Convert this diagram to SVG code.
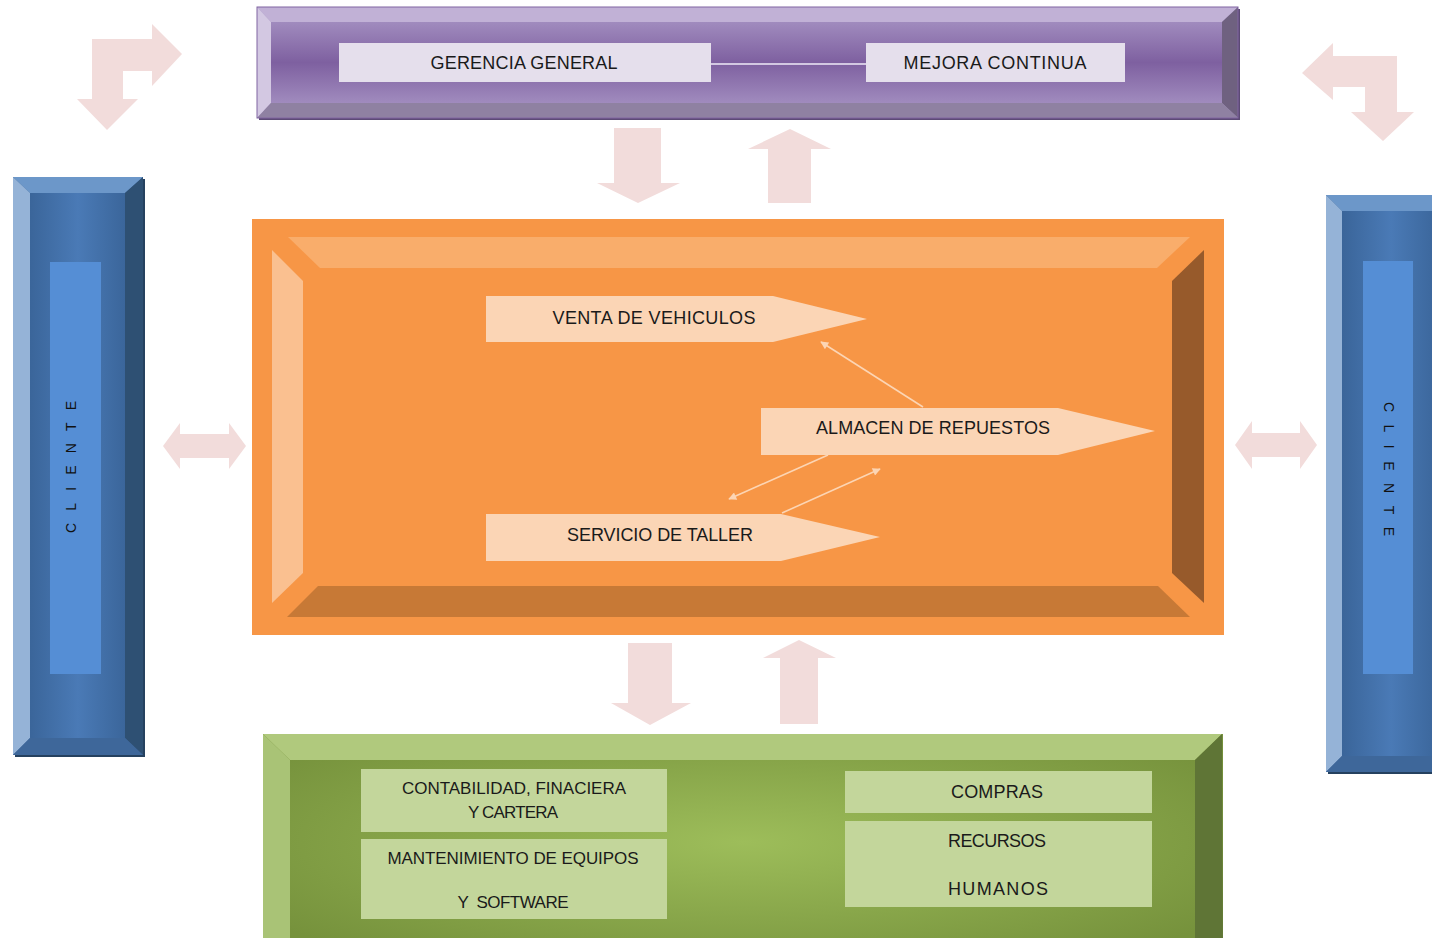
<svg xmlns="http://www.w3.org/2000/svg" width="1432" height="938" viewBox="0 0 1432 938">
<style>
.t{font-family:"Liberation Sans",Arial,sans-serif;fill:#1a1a1a;text-anchor:middle;dominant-baseline:central}
.bigArrow{fill:#f2dcdb}
.pent{fill:#fbd5b5}
.sub{fill:#c3d69b}
.pbox{fill:#e5dfec}
.conn{stroke:#fcd5b4;stroke-width:1.6;fill:none}
.cl{font-family:"Liberation Sans",Arial,sans-serif;fill:#111;text-anchor:middle;dominant-baseline:central;font-size:14px}
</style>
<defs>
<linearGradient id="gPurple" x1="0" y1="0" x2="0" y2="1">
<stop offset="0" stop-color="#ad9bc9"/>
<stop offset="0.5" stop-color="#7e60a0"/>
<stop offset="1" stop-color="#ad9bc9"/>
</linearGradient>
<linearGradient id="gBlue" x1="0" y1="0" x2="1" y2="0">
<stop offset="0" stop-color="#355e90"/>
<stop offset="0.5" stop-color="#4a7ab6"/>
<stop offset="1" stop-color="#355e90"/>
</linearGradient>
<radialGradient id="gGreen" cx="0.5" cy="0.45" r="0.6">
<stop offset="0" stop-color="#9dbd5a"/>
<stop offset="1" stop-color="#76923c"/>
</radialGradient>
<marker id="ah" viewBox="0 0 10 10" refX="9" refY="5" markerWidth="9" markerHeight="8" orient="auto-start-reverse" markerUnits="userSpaceOnUse">
<path d="M0,0 L10,5 L0,10 z" fill="#fcd5b4"/>
</marker>
</defs>

<g id="arrows-outer">
<polygon class="bigArrow" points="92,39 152,39 152,24 182,54 152,86 152,71 123,71 123,99 138,99 107,130 77,99 92,99"/>
<polygon class="bigArrow" points="1302,73 1333,43 1333,56 1397,56 1397,112 1414,112 1383,141 1351,112 1365,112 1365,87 1333,87 1333,100"/>
<polygon class="bigArrow" points="614,128 661,128 661,183 680,183 638,203 597,183 614,183"/>
<polygon class="bigArrow" points="768,203 811,203 811,149 831,149 790,129 748,149 768,149"/>
<polygon class="bigArrow" points="628,643 672,643 672,703 691,703 650,725 611,703 628,703"/>
<polygon class="bigArrow" points="780,724 818,724 818,658 836,658 799,640 763,658 780,658"/>
<polygon class="bigArrow" points="163,446 180,423 180,434 229,434 229,423 246,446 229,469 229,458 180,458 180,469"/>
<polygon class="bigArrow" points="1235,445 1252,421 1252,433 1300,433 1300,421 1317,445 1300,469 1300,457 1252,457 1252,469"/>
</g>

<g id="gerencia-frame">
<rect x="259" y="9" width="981" height="111" fill="#5c4a75"/>
<rect x="257" y="7" width="981" height="111" fill="url(#gPurple)"/>
<polygon points="257,7 1238,7 1222,22 271,22" fill="#c1b1d6"/>
<polygon points="257,7 271,22 271,103 257,118" fill="#d3c8e2"/>
<polygon points="1238,7 1238,118 1222,103 1222,22" fill="#6f6180"/>
<polygon points="257,118 271,103 1222,103 1238,118" fill="#8f81a2"/>
<rect x="257" y="7" width="981" height="111" fill="none" stroke="#8064a2" stroke-width="1"/>
</g>
<g id="gerencia-general">
<rect class="pbox" x="339" y="43" width="372" height="39"/>
<text class="t" x="524" y="63" font-size="18" textLength="187">GERENCIA GENERAL</text>
</g>
<g id="mejora-continua">
<rect class="pbox" x="866" y="43" width="259" height="39"/>
<text class="t" x="995" y="63" font-size="18" textLength="183">MEJORA CONTINUA</text>
</g>

<g id="cliente-left">
<rect x="15" y="179" width="130" height="578" fill="#25415f"/>
<rect x="13" y="177" width="130" height="578" fill="url(#gBlue)"/>
<polygon points="13,177 143,177 125,193 30,193" fill="#6c97c9"/>
<polygon points="13,177 30,193 30,738 13,755" fill="#95b3d7"/>
<polygon points="143,177 143,755 125,738 125,193" fill="#2e5073"/>
<polygon points="13,755 30,738 125,738 143,755" fill="#3e679a"/>
<rect x="50" y="262" width="51" height="412" fill="#558ed5"/>
<text class="cl" transform="translate(71,467) rotate(-90)" x="0" y="0" textLength="132">CLIENTE</text>
</g>

<g id="cliente-right">
<rect x="1328" y="197" width="130" height="577" fill="#25415f"/>
<rect x="1326" y="195" width="130" height="577" fill="url(#gBlue)"/>
<polygon points="1326,195 1456,195 1438,211 1342,211" fill="#6c97c9"/>
<polygon points="1326,195 1342,211 1342,756 1326,772" fill="#95b3d7"/>
<polygon points="1326,772 1342,756 1438,756 1456,772" fill="#3e679a"/>
<rect x="1363" y="261" width="50" height="413" fill="#558ed5"/>
<text class="cl" transform="translate(1389,469) rotate(90)" x="0" y="0" textLength="134">CLIENTE</text>
</g>

<g id="operaciones">
<rect x="252" y="219" width="972" height="416" fill="#f79646"/>
<polygon points="288,237 1190,237 1157,268 320,268" fill="#f9ad6b"/>
<polygon points="272,250 303,281 303,573 272,603" fill="#fac090"/>
<polygon points="1204,250 1172,281 1172,573 1204,603" fill="#975a2b"/>
<polygon points="318,586 1158,586 1190,617 287,617" fill="#c77936"/>
</g>

<g id="connectors">
<line x1="711" y1="64" x2="866" y2="64" stroke="#d3c8e2" stroke-width="2"/>
<line class="conn" x1="923" y1="407" x2="821" y2="342" marker-end="url(#ah)"/>
<line class="conn" x1="828" y1="455" x2="729" y2="499" marker-end="url(#ah)"/>
<line class="conn" x1="782" y1="513" x2="880" y2="469" marker-end="url(#ah)"/>
</g>

<g id="venta-vehiculos">
<polygon class="pent" points="486,296 773,296 867,319 773,342 486,342"/>
<text class="t" x="654" y="318" font-size="18" textLength="203">VENTA DE VEHICULOS</text>
</g>
<g id="almacen-repuestos">
<polygon class="pent" points="761,408 1058,408 1155,431 1058,455 761,455"/>
<text class="t" x="933" y="428" font-size="18" textLength="234">ALMACEN DE REPUESTOS</text>
</g>
<g id="servicio-taller">
<polygon class="pent" points="486,514 781,514 880,537 781,561 486,561"/>
<text class="t" x="660" y="535" font-size="18" textLength="186">SERVICIO DE TALLER</text>
</g>

<g id="apoyo">
<rect x="263" y="734" width="960" height="240" fill="url(#gGreen)"/>
<polygon points="263,734 1222,734 1195,760 290,760" fill="#b0c97d"/>
<polygon points="263,734 290,760 290,950 263,974" fill="#a9c376"/>
<polygon points="1222,734 1223,974 1195,950 1195,760" fill="#5f7536"/>
</g>
<g id="contabilidad">
<rect class="sub" x="361" y="769" width="306" height="63"/>
<text class="t" x="514" y="788" font-size="17" textLength="224">CONTABILIDAD, FINACIERA</text>
<text class="t" x="513" y="812" font-size="17" textLength="90">Y CARTERA</text>
</g>
<g id="mantenimiento">
<rect class="sub" x="361" y="839" width="306" height="80"/>
<text class="t" x="513" y="858" font-size="17" textLength="251">MANTENIMIENTO DE EQUIPOS</text>
<text class="t" x="513" y="902" font-size="17" textLength="111" xml:space="preserve">Y  SOFTWARE</text>
</g>
<g id="compras">
<rect class="sub" x="845" y="771" width="307" height="42"/>
<text class="t" x="997" y="792" font-size="18" textLength="92">COMPRAS</text>
</g>
<g id="recursos-humanos">
<rect class="sub" x="845" y="821" width="307" height="86"/>
<text class="t" x="997" y="841" font-size="18" textLength="98">RECURSOS</text>
<text class="t" x="998" y="889" font-size="18" textLength="100">HUMANOS</text>
</g>
</svg>
